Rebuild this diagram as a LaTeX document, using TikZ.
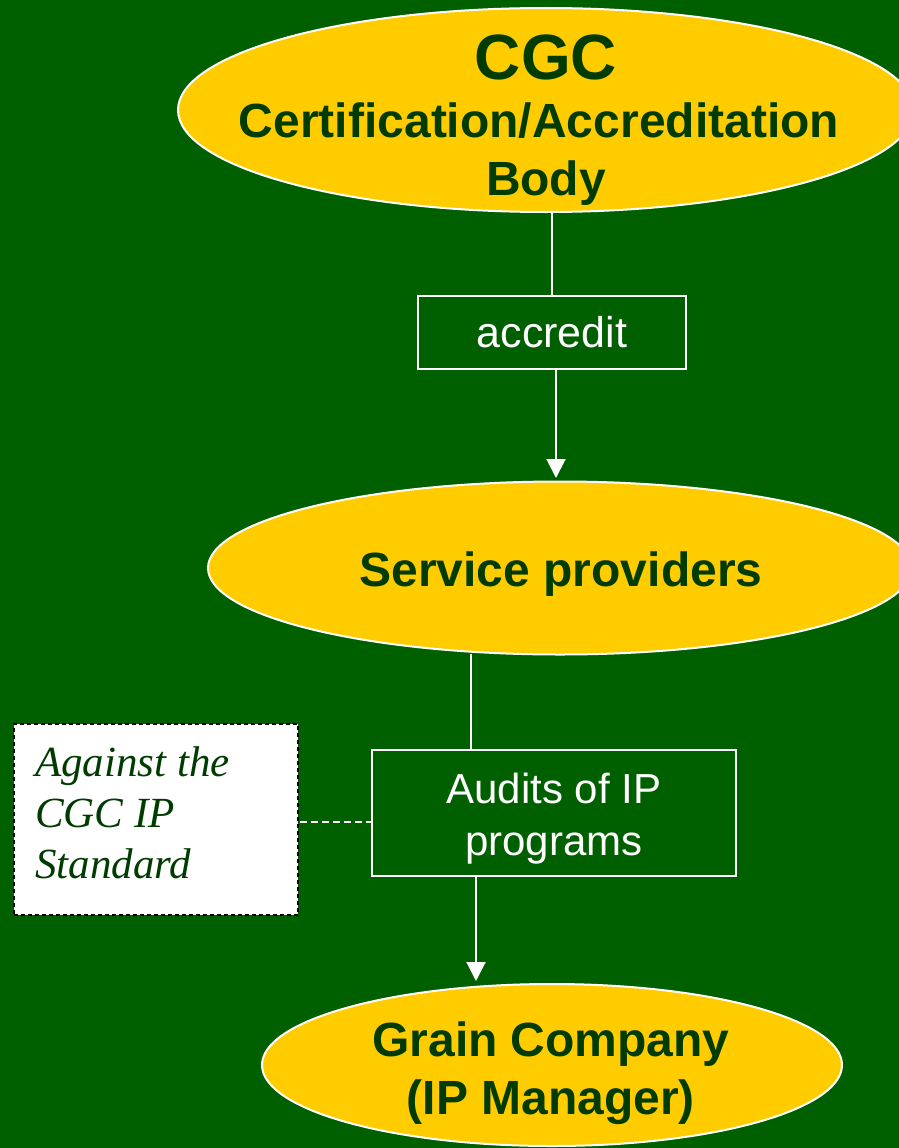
\documentclass[tikz,border=0pt]{standalone}
\usepackage{fontspec}
\setmainfont{Liberation Sans}
\newfontfamily\serifit{Liberation Serif}
\usetikzlibrary{shapes.geometric,arrows.meta}
\definecolor{bggreen}{RGB}{0,96,0}
\definecolor{txtgreen}{RGB}{0,60,0}
\definecolor{gold}{RGB}{255,204,0}
\tikzset{
  oval/.style={ellipse, draw=white, line width=2pt, fill=gold, inner sep=0pt},
  ovaltext/.style={text=txtgreen, font=\bfseries, align=center, inner sep=0pt},
  actbox/.style={draw=white, line width=2pt, fill=bggreen, text=white, align=center, inner sep=0pt},
  notebox/.style={draw=black, dashed, dash pattern=on 4pt off 3pt, line width=1.5pt, fill=white, inner sep=0pt},
  link/.style={draw=white, line width=2pt},
  arrowlink/.style={link, -{Triangle[width=19pt,length=19pt]}},
  dashlink/.style={draw=white, line width=1.5pt, dash pattern=on 7pt off 4pt}
}
\begin{document}
\begin{tikzpicture}[x=1pt,y=-1pt]
\useasboundingbox (0,0) rectangle (899,1148);
\fill[bggreen] (0,0) rectangle (899,1148);
% ellipses
\node[oval, minimum width=736pt, minimum height=204pt] (cgc) at (546,110) {};
\node[ovaltext, font=\bfseries\fontsize{48}{58}\selectfont] (cgctext) at (546,120) {{\fontsize{64}{58}\selectfont CGC}\\\hspace*{-14pt}Certification/Accreditation\\Body};
\node[oval, minimum width=704pt, minimum height=173pt] (sp) at (560,568) {};
\node[ovaltext, font=\bfseries\fontsize{48}{54}\selectfont] (sptext) at (561,574) {Service providers};
\node[oval, minimum width=580pt, minimum height=162pt] (gc) at (552,1065) {};
\node[ovaltext, font=\bfseries\fontsize{48}{58}\selectfont] (gctext) at (551,1073) {Grain Company\\(IP Manager)};
% boxes
\node[actbox, minimum width=268pt, minimum height=73pt, font=\fontsize{43}{48}\selectfont] (acc) at (552,332.5) {accredit};
\node[actbox, minimum width=364pt, minimum height=126pt] (aud) at (554,813) {};
\node[text=white, align=center, inner sep=0pt, font=\fontsize{42}{52}\selectfont] (audtext) at (554,819) {Audits of IP\\programs};
\node[notebox, minimum width=284pt, minimum height=191pt] (note) at (156,819.5) {};
\node[anchor=north west, inner sep=0pt, text=txtgreen, align=left, font=\serifit\itshape\fontsize{43}{51}\selectfont] (notetext) at (35,746) {Against the\\CGC IP\\Standard};
% connectors
\coordinate (a2) at (556,478);
\coordinate (b1) at (471,654);
\coordinate (b2) at (471,750);
\coordinate (c1) at (476,876);
\coordinate (c2) at (476,981);
\coordinate (d1) at (300,822);
\coordinate (d2) at (372,822);
\draw[link] (acc.north) -- (acc.north |- cgc.south);
\draw[arrowlink] (acc.south -| a2) -- (a2);
\draw[link] (b1) -- (b2);
\draw[arrowlink] (c1) -- (c2);
\draw[dashlink] (d1) -- (d2);
\end{tikzpicture}
\end{document}
